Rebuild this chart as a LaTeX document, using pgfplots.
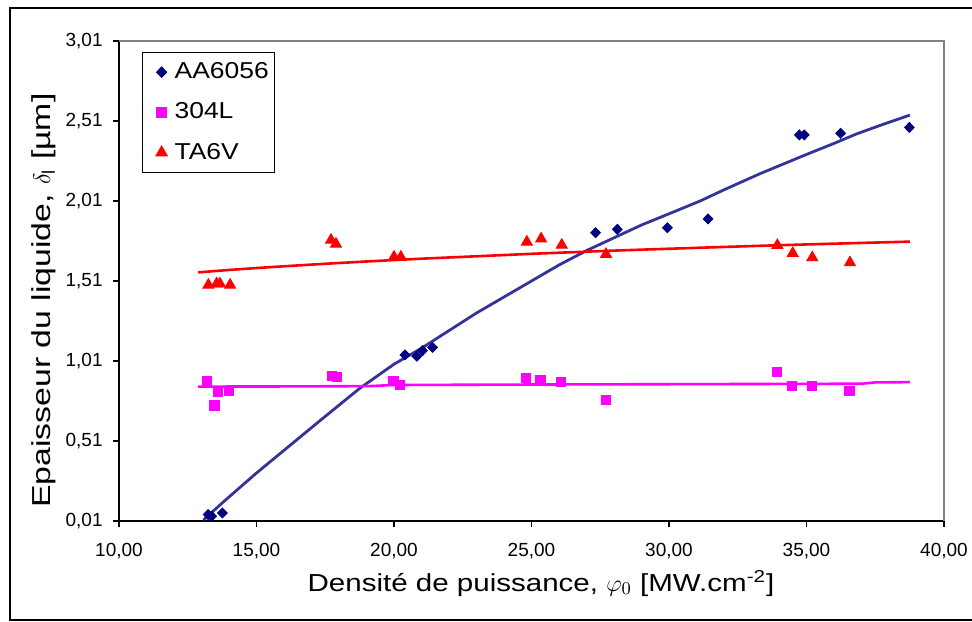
\documentclass[border=0pt]{standalone}
\usepackage{pgfplots}
\pgfplotsset{compat=1.18}
\usepackage{fontspec}
\setmainfont{Liberation Sans}
\newfontfamily\xlabelfont[FakeStretch=1.2]{Liberation Sans}
\newfontfamily\ylabelfont[FakeStretch=1.3]{Liberation Sans}
\newfontfamily\legfont[FakeStretch=1.15]{Liberation Sans}
\definecolor{navy}{HTML}{000080}
\definecolor{trendblue}{HTML}{333399}
\definecolor{mag}{HTML}{FF00FF}
\definecolor{redd}{HTML}{FF0000}
\pgfplotsset{legmark/.style={legend image code/.code={\path[mark repeat=2,mark phase=2,##1,draw=none] plot coordinates {(0pt,0pt)(8pt,0pt)(13pt,0pt)};}}}

\pgfplotstableread{
x y
13.24 0.050
13.37 0.040
13.76 0.060
20.40 1.048
20.83 1.040
21.04 1.075
21.40 1.095
27.33 1.812
28.12 1.833
29.94 1.843
31.42 1.898
34.74 2.423
34.92 2.423
36.24 2.433
38.74 2.470
}\aadata

\pgfplotstableread{
x y
13.19 0.885
13.47 0.733
13.61 0.818
14.00 0.823
17.73 0.916
17.92 0.912
19.98 0.887
20.22 0.862
24.80 0.902
25.32 0.891
26.07 0.881
27.70 0.766
33.92 0.943
34.48 0.854
35.19 0.854
36.56 0.823
}\ssdata

\pgfplotstableread{
x y
13.25 1.485
13.55 1.493
13.67 1.493
14.04 1.485
17.71 1.766
17.89 1.741
20.00 1.660
20.25 1.660
24.83 1.754
25.35 1.774
26.10 1.735
27.71 1.677
33.94 1.733
34.50 1.683
35.21 1.656
36.58 1.625
}\tadata

\pgfplotstableread{
x y
13.07 0.016
13.80 0.130
15.00 0.310
16.20 0.480
17.40 0.650
18.76 0.840
20.00 0.990
21.00 1.090
22.00 1.200
23.00 1.310
24.00 1.410
25.00 1.510
26.00 1.610
27.00 1.700
28.00 1.780
29.00 1.860
30.00 1.930
31.13 2.010
32.00 2.080
33.30 2.180
34.00 2.230
35.13 2.310
36.00 2.370
36.83 2.430
37.80 2.490
38.76 2.547
}\aatrend

\pgfplotstableread{
x y
12.87 0.850
16.00 0.851
19.10 0.853
20.00 0.860
25.00 0.863
30.00 0.865
37.00 0.868
37.50 0.876
38.76 0.878
}\sstrend

\pgfplotstableread{
x y
12.88 1.564
14.00 1.579
15.00 1.591
16.00 1.602
17.43 1.617
19.00 1.632
20.00 1.641
21.07 1.650
22.00 1.657
23.85 1.671
25.00 1.680
26.50 1.690
28.00 1.700
29.90 1.711
31.13 1.718
33.30 1.730
35.10 1.739
37.00 1.748
38.76 1.756
}\tatrend

\begin{document}
\begin{tikzpicture}
\useasboundingbox (0,0) rectangle (486pt,310.5pt);
\draw[line width=0.65pt] (490pt,306.5pt) -- (5pt,306.5pt) -- (5pt,0.5pt) -- (490pt,0.5pt);
\begin{axis}[
  at={(59.5pt,50pt)}, anchor=south west,
  scale only axis, width=412.5pt, height=240pt,
  xmin=10, xmax=40, ymin=0.01, ymax=3.01,
  axis x line=bottom, axis y line=left,
  axis line style={-, line width=0.6pt, black},
  xtick={10,15,20,25,30,35,40},
  ytick={0.01,0.51,1.01,1.51,2.01,2.51,3.01},
  tick align=outside, major tick length=3pt,
  tick style={black, line width=0.6pt},
  minor tick num=0,
  /pgf/number format/use comma,
  /pgf/number format/fixed,
  /pgf/number format/fixed zerofill,
  /pgf/number format/precision=2,
  /pgf/number format/assume math mode=true,
  ticklabel style={font=\fontsize{9.5}{11}\selectfont},
  xticklabel style={anchor=north, inner sep=0pt, yshift=-8pt},
  yticklabel style={anchor=east, inner sep=0pt, xshift=-5pt},
  xlabel={\xlabelfont\fontsize{12.3}{14}\selectfont Densité de puissance, $\varphi_0$ [MW.cm\textsuperscript{-2}]},
  xlabel style={at={(axis description cs:0.5115,0)}, anchor=base, yshift=-35pt},
  ylabel={\ylabelfont\fontsize{13}{15}\selectfont Epaisseur du liquide, $\delta_{\mathrm{l}}$ [µm]},
  ylabel style={at={(axis description cs:-0.0836,0.459)}, anchor=base, rotate=0},
  legend style={at={(rel axis cs:0.0279,0.977)}, anchor=north west,
    draw=black, line width=0.6pt, fill=white,
    font=\legfont\fontsize{11.5}{13.5}\selectfont,
    inner xsep=1.5pt, inner ysep=3.5pt, row sep=7.6pt,
    nodes={inner sep=1.5pt}},
  legend cell align=left,
  clip=false,
]
\draw[gray, line width=0.6pt] (rel axis cs:0,1) -- (rel axis cs:1,1) -- (rel axis cs:1,0);
\addplot[trendblue, line width=1.4pt, no marks, forget plot] table {\aatrend};
\addplot[mag, line width=1.3pt, no marks, forget plot] table {\sstrend};
\addplot[redd, line width=1.3pt, no marks, forget plot] table {\tatrend};
\addplot[draw=none, legmark, mark=diamond*, mark size=2.5pt, mark options={xscale=1.3, draw=navy, fill=navy}, navy] table {\aadata};
\addlegendentry{AA6056}
\addplot[draw=none, legmark, mark=square*, mark size=2.3pt, mark options={draw=mag, fill=mag}, mag] table {\ssdata};
\addlegendentry{304L}
\addplot[draw=none, legmark, mark=triangle*, mark size=3.2pt, mark options={draw=redd, fill=redd}, redd] table {\tadata};
\addlegendentry{TA6V}
\end{axis}
\end{tikzpicture}
\end{document}
